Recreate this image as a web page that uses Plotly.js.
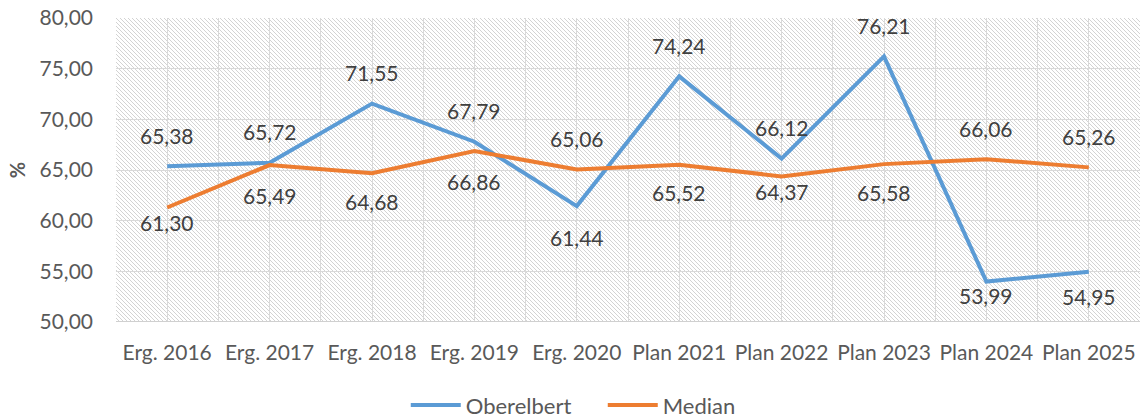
<!DOCTYPE html>
<html>
<head>
<meta charset="utf-8">
<script src="https://cdn.plot.ly/plotly-3.0.1.min.js"></script>
<style>html,body{margin:0;padding:0;background:#fff;}#chart{width:1143px;height:420px;}</style>
</head>
<body>
<div id="chart"></div>
<script>
const categories = ["Erg. 2016","Erg. 2017","Erg. 2018","Erg. 2019","Erg. 2020","Plan 2021","Plan 2022","Plan 2023","Plan 2024","Plan 2025"];
const oberelbert = [65.38, 65.72, 71.55, 67.79, 61.44, 74.24, 66.12, 76.21, 53.99, 54.95];
const median = [61.30, 65.49, 64.68, 66.86, 65.06, 65.52, 64.37, 65.58, 66.06, 65.26];
const yTicks = [50, 55, 60, 65, 70, 75, 80];

// label offsets in pixels (style only): negative = above point
const oberelbertLabelShift = [-31, -31, -31, -31, 31, -31, -31, -31, 14, 25];
const medianLabelShift = [15, 30, 28, 30, -31, 28, 15, 28, -31, -31];

const fmt = v => v.toFixed(2).replace('.', ',');
const xIdx = categories.map((_, i) => i);

const FONT = 'Lato, "Open Sans", sans-serif';
const blue = '#5B9BD5', orange = '#ED7D31';

const traces = [
  {x: xIdx, y: oberelbert, name: 'Oberelbert', type: 'scatter', mode: 'lines',
   line: {color: blue, width: 4}},
  {x: xIdx, y: median, name: 'Median', type: 'scatter', mode: 'lines',
   line: {color: orange, width: 4}}
];

const annotations = [];
oberelbert.forEach((v, i) => annotations.push({x: i, y: v, xref: 'x', yref: 'y', text: fmt(v),
  showarrow: false, yshift: -oberelbertLabelShift[i], font: {family: FONT, size: 21, color: '#404040'}}));
median.forEach((v, i) => annotations.push({x: i, y: v, xref: 'x', yref: 'y', text: fmt(v),
  showarrow: false, yshift: -medianLabelShift[i], font: {family: FONT, size: 21, color: '#404040'}}));

const svg = '<svg xmlns="http://www.w3.org/2000/svg" width="1024" height="304">' +
  '<defs><pattern id="h" patternUnits="userSpaceOnUse" width="4" height="4">' +
  '<path d="M-1,-1 L5,5 M-1,3 L1,5 M3,-1 L5,1" stroke="#d3d3d3" stroke-width="1"/></pattern></defs>' +
  '<rect width="1024" height="304" fill="#ffffff"/><rect width="1024" height="304" fill="url(#h)"/></svg>';

const layout = {
  width: 1143, height: 420,
  margin: {l: 116, r: 3, t: 18, b: 98, autoexpand: false},
  paper_bgcolor: '#ffffff', plot_bgcolor: '#ffffff',
  font: {family: FONT, color: '#595959', size: 20},
  showlegend: true,
  legend: {orientation: 'h', xref: 'container', x: 0.355, xanchor: 'left',
    yref: 'container', y: 0.035, yanchor: 'middle',
    font: {family: FONT, size: 22, color: '#595959'}, itemwidth: 50, entrywidth: 132, tracegroupgap: 0},
  xaxis: {
    range: [-0.5, 9.5], tickvals: xIdx, ticktext: categories,
    showgrid: true, gridcolor: '#d9d9d9', gridwidth: 1,
    minor: {tick0: 0.5, dtick: 1, showgrid: true, gridcolor: '#d9d9d9', gridwidth: 1},
    zeroline: false, showline: false, ticks: '', ticklen: 0, ticklabelstandoff: 16,
    tickfont: {family: FONT, size: 21, color: '#595959'}, fixedrange: true
  },
  yaxis: {
    range: [50, 80], tickvals: yTicks, ticktext: yTicks.map(fmt),
    showgrid: true, gridcolor: '#d9d9d9', gridwidth: 1, zeroline: false,
    showline: false, ticks: '', ticklabelstandoff: 22,
    tickfont: {family: FONT, size: 21, color: '#595959'},
    title: {text: '<b>%</b>', font: {family: FONT, size: 20, color: '#595959'}, standoff: 8},
    fixedrange: true
  },
  shapes: [{type: 'line', xref: 'paper', yref: 'y', x0: 0, x1: 1, y0: 50, y1: 50,
    line: {color: '#d0d0d0', width: 2}}],
  images: [{source: 'data:image/svg+xml;charset=utf-8,' + encodeURIComponent(svg),
    xref: 'paper', yref: 'paper', x: 0, y: 1, sizex: 1, sizey: 1,
    sizing: 'stretch', xanchor: 'left', yanchor: 'top', layer: 'below'}],
  annotations: annotations
};

Plotly.newPlot('chart', traces, layout, {displayModeBar: false, staticPlot: true});
</script>
</body>
</html>
